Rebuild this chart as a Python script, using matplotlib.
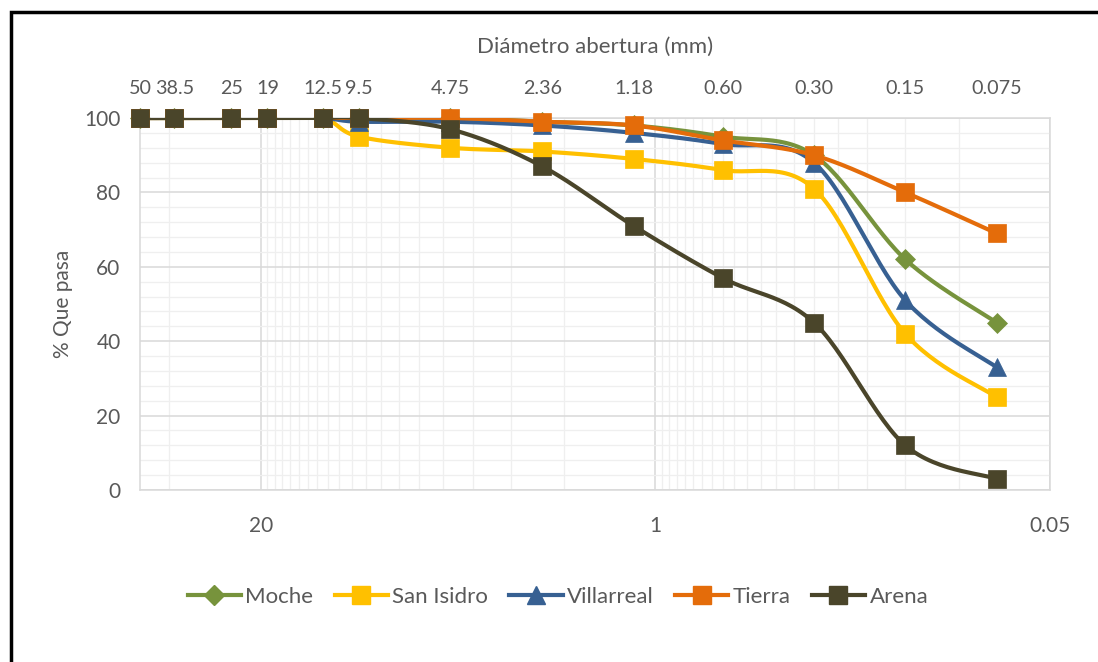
import numpy as np
import matplotlib
matplotlib.use("Agg")
import matplotlib.pyplot as plt
from matplotlib.lines import Line2D
from matplotlib.patches import Rectangle

plt.rcParams['font.family'] = ['Lato', 'DejaVu Sans']

# ---- data ----
sizes = [50, 38.5, 25, 19, 12.5, 9.5, 4.75, 2.36, 1.18, 0.60, 0.30, 0.15, 0.075]
size_labels = ["50", "38.5", "25", "19", "12.5", "9.5", "4.75", "2.36", "1.18",
               "0.60", "0.30", "0.15", "0.075"]
moche      = [100, 100, 100, 100, 100, 100, 100, 99, 98, 95, 90, 62, 45]
san_isidro = [100, 100, 100, 100, 100, 95, 92, 91, 89, 86, 81, 42, 25]
villarreal = [100, 100, 100, 100, 100, 99, 99, 98, 96, 93, 88, 51, 33]
tierra     = [100, 100, 100, 100, 100, 100, 100, 99, 98, 94, 90, 80, 69]
arena      = [100, 100, 100, 100, 100, 100, 97, 87, 71, 57, 45, 12, 3]
series_names = ["Moche", "San Isidro", "Villarreal", "Tierra", "Arena"]
bottom_ticks = [20, 1, 0.05]
bottom_tick_labels = ["20", "1", "0.05"]
y_ticks = [0, 20, 40, 60, 80, 100]

colors = ["#77933C", "#FFC000", "#376092", "#E46C0A", "#4A452A"]
markers = ["D", "s", "^", "s", "s"]
msizes = [10, 12.5, 12.5, 12.5, 12.5]
FS = 15
GREY = '#595959'

fig = plt.figure(figsize=(10.98, 6.62), dpi=100)
ax = fig.add_axes([140/1098, 1-490/662, 910/1098, 372/662])
ax.set_xscale('log', base=20)
ax.set_xlim(50, 0.05)
ax.set_ylim(0, 100)

# gridlines
minor_x = [40] + list(range(2, 20)) + [round(0.05*k, 2) for k in range(2, 20)]
ax.set_xticks(bottom_ticks)
ax.set_xticklabels(bottom_tick_labels)
ax.set_xticks(minor_x, minor=True)
ax.xaxis.set_minor_formatter(matplotlib.ticker.NullFormatter())
ax.set_yticks(y_ticks)
ax.set_yticks(np.arange(0, 101, 4), minor=True)
ax.grid(which='major', color='#D9D9D9', lw=1.1, zorder=0)
ax.grid(which='minor', color='#EFEFEF', lw=0.9, zorder=0)
ax.set_axisbelow(True)
for s in ax.spines.values():
    s.set_color('#D9D9D9')
    s.set_linewidth(1.1)
ax.tick_params(which='both', length=0, colors=GREY, labelsize=FS)
ax.tick_params(axis='x', pad=19)
ax.tick_params(axis='y', pad=14)
ax.set_ylabel("% Que pasa", color=GREY, fontsize=FS, labelpad=8)

fig.canvas.draw()

def smooth(xs, ys, n=30):
    pts = ax.transData.transform(np.column_stack([xs, ys]))
    P = np.vstack([pts[0], pts, pts[-1]])
    out = []
    for i in range(1, len(P) - 2):
        p0, p1, p2, p3 = P[i-1], P[i], P[i+1], P[i+2]
        c1 = p1 + (p2 - p0) / 6.0
        c2 = p2 - (p3 - p1) / 6.0
        t = np.linspace(0, 1, n)[:, None]
        seg = ((1-t)**3)*p1 + 3*((1-t)**2)*t*c1 + 3*(1-t)*t**2*c2 + t**3*p2
        out.append(seg if i == 1 else seg[1:])
    out = np.vstack(out)
    d = ax.transData.inverted().transform(out)
    return d[:, 0], d[:, 1]

all_series = [moche, san_isidro, villarreal, tierra, arena]
handles = []
for k, (vals, name) in enumerate(zip(all_series, series_names)):
    sx, sy = smooth(sizes, vals)
    ax.plot(sx, sy, color=colors[k], lw=3.0, zorder=3 + k, solid_capstyle='round')
    ax.plot(sizes, vals, ls='none', marker=markers[k], ms=msizes[k],
            mfc=colors[k], mec=colors[k], mew=0.5, zorder=3 + k, clip_on=False)
    handles.append(Line2D([], [], color=colors[k], lw=3.0, marker=markers[k],
                          ms=msizes[k], mfc=colors[k], mec=colors[k]))

# top axis with sieve sizes
top = ax.secondary_xaxis('top')
top.set_xticks(sizes)
top.set_xticklabels(size_labels)
top.xaxis.set_minor_locator(matplotlib.ticker.NullLocator())
top.tick_params(length=0, colors=GREY, labelsize=14.2, pad=15)
top.spines['top'].set_visible(False)
top.set_xlabel("Diámetro abertura (mm)", color=GREY, fontsize=16, labelpad=20)

leg = fig.legend(handles, series_names, loc='center', bbox_to_anchor=(558/1098, 1-597/662),
                 ncol=5, frameon=False, fontsize=16, handlelength=2.4,
                 handletextpad=0.2, columnspacing=0.95, labelcolor=GREY)

# outer border
fig.add_artist(Rectangle((11/1098, -0.05), 1.2, 1 - 12/662 + 0.05, transform=fig.transFigure,
                         fill=False, ec='black', lw=2.5))

fig.savefig("out.png", dpi=100)
